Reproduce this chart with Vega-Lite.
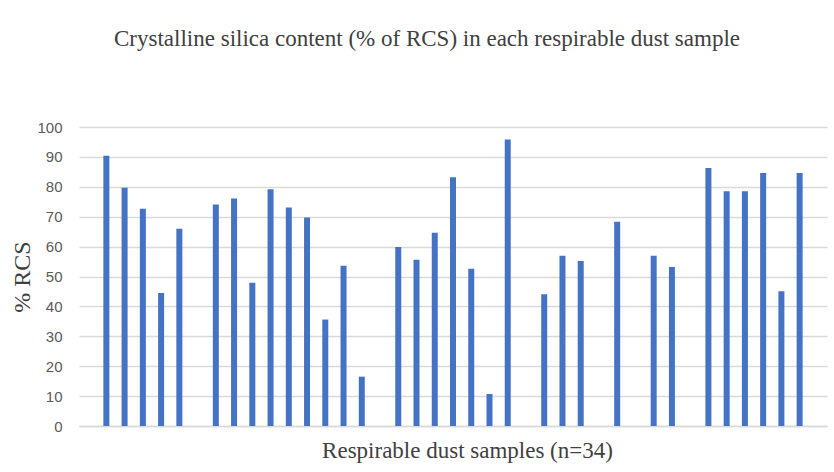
{
  "$schema": "https://vega.github.io/schema/vega-lite/v6.json",
  "autosize": {"type": "none"},
  "padding": {"left": 79, "top": 127, "right": 7, "bottom": 46},
  "width": 748,
  "height": 299,
  "background": "white",
  "title": {
    "text": "Crystalline silica content (% of RCS) in each respirable dust sample",
    "font": "Liberation Serif",
    "fontSize": 23,
    "fontWeight": "normal",
    "color": "#404040",
    "anchor": "middle",
    "dx": -26,
    "offset": 69
  },
  "data": {
    "values": [
      {"slot": 2, "pct": 90.4}, {"slot": 3, "pct": 79.7}, {"slot": 4, "pct": 72.7}, {"slot": 5, "pct": 44.5}, {"slot": 6, "pct": 66.0},
      {"slot": 8, "pct": 74.1}, {"slot": 9, "pct": 76.1}, {"slot": 10, "pct": 47.9}, {"slot": 11, "pct": 79.2}, {"slot": 12, "pct": 73.1},
      {"slot": 13, "pct": 69.7}, {"slot": 14, "pct": 35.6}, {"slot": 15, "pct": 53.6}, {"slot": 16, "pct": 16.5},
      {"slot": 18, "pct": 59.9}, {"slot": 19, "pct": 55.6}, {"slot": 20, "pct": 64.6}, {"slot": 21, "pct": 83.2}, {"slot": 22, "pct": 52.6},
      {"slot": 23, "pct": 10.7}, {"slot": 24, "pct": 95.8},
      {"slot": 26, "pct": 44.1}, {"slot": 27, "pct": 56.9}, {"slot": 28, "pct": 55.2},
      {"slot": 30, "pct": 68.3},
      {"slot": 32, "pct": 56.9}, {"slot": 33, "pct": 53.2},
      {"slot": 35, "pct": 86.3}, {"slot": 36, "pct": 78.5}, {"slot": 37, "pct": 78.5}, {"slot": 38, "pct": 84.6}, {"slot": 39, "pct": 45.1}, {"slot": 40, "pct": 84.6}
    ]
  },
  "mark": {"type": "bar", "size": 6, "color": "#4472C4"},
  "encoding": {
    "x": {
      "field": "slot",
      "type": "ordinal",
      "scale": {"domain": [1,2,3,4,5,6,7,8,9,10,11,12,13,14,15,16,17,18,19,20,21,22,23,24,25,26,27,28,29,30,31,32,33,34,35,36,37,38,39,40,41], "paddingInner": 0, "paddingOuter": 0},
      "axis": {
        "title": "Respirable dust samples (n=34)",
        "titleFont": "Liberation Serif",
        "titleFontSize": 23,
        "titleFontWeight": "normal",
        "titleColor": "#404040",
        "titlePadding": 13,
        "titleX": 388,
        "labels": false,
        "ticks": false,
        "domainColor": "#d9d9d9",
        "domainWidth": 1.5
      }
    },
    "y": {
      "field": "pct",
      "type": "quantitative",
      "scale": {"domain": [0, 100], "nice": false},
      "axis": {
        "title": "% RCS",
        "titleFont": "Liberation Serif",
        "titleFontSize": 24,
        "titleFontWeight": "normal",
        "titleColor": "#404040",
        "titlePadding": 2,
        "values": [0,10,20,30,40,50,60,70,80,90,100],
        "labelFont": "Liberation Sans",
        "labelFontSize": 15,
        "labelColor": "#595959",
        "labelPadding": 17,
        "domain": false,
        "ticks": false,
        "grid": true,
        "gridColor": "#d9d9d9",
        "gridWidth": 1.5
      }
    }
  },
  "config": {"view": {"stroke": null}}
}
